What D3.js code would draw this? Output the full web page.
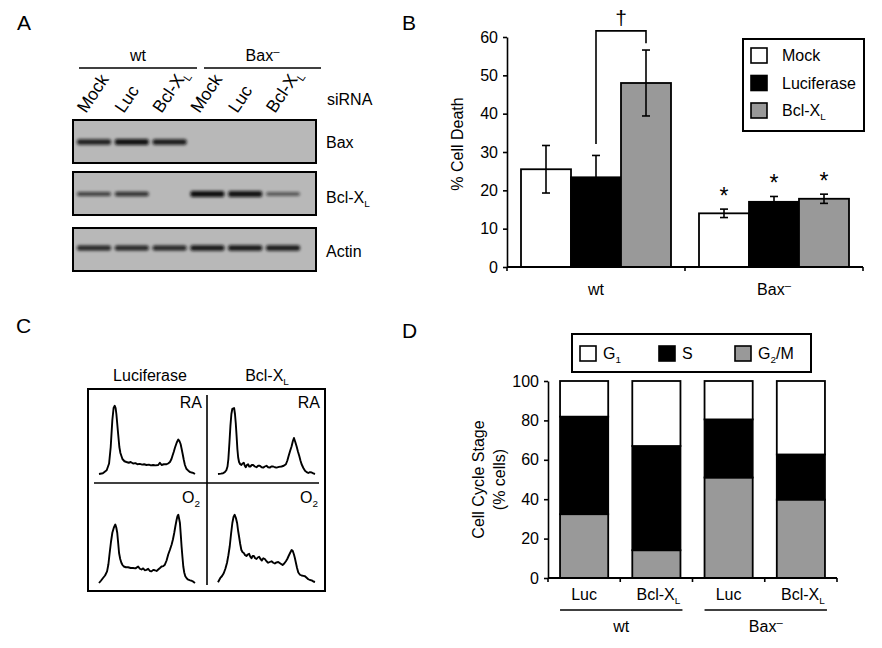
<!DOCTYPE html>
<html><head><meta charset="utf-8">
<script src="https://cdn.jsdelivr.net/npm/d3@7"></script>
<style>
body{margin:0;background:#fff}
svg text{font-family:"Liberation Sans",Arial,Helvetica,sans-serif;fill:#000}
</style>
</head><body>
<svg id="fig" width="882" height="648"></svg>
<script>
// ---------------- DATA ----------------
// Panel A (western blots)
const lanes = ["wt-Mock","wt-Luc","wt-Bcl","bax-Mock","bax-Luc","bax-Bcl"];
const laneLabels = ["Mock","Luc","Bcl-X_L","Mock","Luc","Bcl-X_L"];
const strainLabels = ["wt","Bax^–"];
const blotNames = ["Bax","Bcl-X_L","Actin"];
const baxBands = [0.85, 0.95, 0.9, 0, 0, 0];
const bclBands = [0.6, 0.7, 0, 1.0, 0.95, 0.45];
const actinBands = [0.8, 0.8, 0.8, 0.92, 0.92, 0.88];

// Panel B (% cell death)
const groupsB = ["wt","Bax^–"];
const seriesB = ["Mock","Luciferase","Bcl-X_L"];
const mockDeath = [25.5, 14.0];
const lucDeath = [23.4, 17.0];
const bclDeath = [48.0, 17.8];
const mockErr = [6.2, 1.1];
const lucErr = [5.7, 1.4];
const bclErr = [8.6, 1.2];
const yTicksB = [0,10,20,30,40,50,60];
const bracketLevels = [32.1, 61.6, 58.4];

// Panel C (DNA content histograms: [channel, count])
const histTitles = ["Luciferase","Bcl-X_L"];
const histConds = ["RA","O_2"];
const histLucRA = [[0,0],[4,1],[8,5],[10.5,14],[12.2,36],[13.9,72],[15.2,88],[16.4,91],[17.3,88],[18.1,80],[19.9,54],[21.2,36],[22.3,28],[24.4,20],[26.5,17],[28.6,16],[31,15],[33,16],[35.5,14],[38,14.5],[40,13],[42.5,13.5],[45,12.5],[47,13],[49.5,12],[52,12.5],[54,11.5],[56.4,12],[59,11.5],[61.7,12],[63.4,15],[65.2,12],[67.5,13],[70.4,13],[72,14],[73.9,16],[75.5,20],[76.7,25],[78,30],[79.1,35],[81,42],[82.6,46],[83.8,44],[85,40],[86,34],[87.1,27],[88.3,19],[89.5,12],[91,7],[93,4.4],[95,2.5],[96.5,2],[98,1.5],[100,0]];
const histBclRA = [[0,0],[3,0.5],[5.2,1],[7,2.5],[8.6,5],[9.8,10],[10.7,20],[11.8,42],[12.8,64],[13.8,80],[14.8,87],[16.6,88],[17.5,80],[18.3,68],[19.2,50],[20,33],[20.8,22],[21.7,16],[22.9,13],[24.1,12],[25.3,14],[26.6,15],[27.6,11],[28.6,9],[29.8,12],[31,13],[32.2,10],[33.4,10],[34.8,12],[36.2,12],[38,10],[39.7,9],[41.4,11],[43.1,11],[45,9],[46.6,8.5],[48.3,10],[50,11],[51.7,9],[53.4,8.5],[55,10],[56.9,10],[58.6,9],[60.3,8.5],[62.9,9.5],[65.5,10],[67.8,11],[70,13],[71.5,18],[72.8,24],[74.4,31],[75.9,37],[77.2,44],[78.3,48],[79.6,43],[81,37],[82.4,30],[83.8,24],[85,18],[86.2,13],[88,8],[89.7,4.4],[91.4,2.5],[93.1,1.3],[94.8,2.5],[96.6,2],[98.3,0.8],[100,0]];
const histLucO2 = [[0,0],[2,3],[4.2,6.7],[6.3,10],[8.4,15.5],[9.8,25],[11.1,40],[12.5,55],[13.9,67],[15.5,74],[17,78],[18,74],[19,67],[20,53],[20.9,40],[22.1,32],[23.3,27],[24.5,24],[25.8,22],[28,21],[30.3,21],[33,20],[35.5,20],[38,19.5],[40.8,22],[42.5,19],[44.3,18],[46,19.5],[47.7,17],[49.5,17.5],[51.2,19],[53,16],[54.7,15.5],[56.5,17.5],[58.2,17],[60,16],[61.7,18],[63.5,20],[65.2,22],[67,22.5],[68.6,24.4],[70.4,30],[72.1,38],[73.8,44],[75.6,51],[77,58],[78.4,67],[79.6,76],[80.8,84],[81.7,89],[82.6,91],[83.4,86],[84.3,80],[85.2,64],[86,49],[86.9,35],[87.8,22],[88.8,14],[89.9,8.9],[91.5,6],[93,4.4],[95,3.5],[96.5,3],[98.2,1.8],[100,0]];
const histBclO2 = [[0,1],[2.4,6.7],[4,9],[5.9,13],[7.6,19],[9.3,27],[10.7,37],[12.1,49],[13.5,66],[14.8,80],[16,88],[17.2,91],[18.4,87],[19.7,80],[20.7,70],[21.7,62],[22.9,52],[24.1,44],[25.4,41],[26.6,40],[28,37],[29.3,36],[30.7,38],[32.1,39],[33.3,35],[34.5,33],[35.7,36],[37,36],[38.3,33],[39.7,32],[41,34],[42.4,35],[43.8,32],[45.2,30],[46.7,33],[48.3,32],[50,29],[51.7,27],[53.4,28],[55.2,29],[57,27],[58.6,26],[60.3,27.5],[62.1,28],[64.3,26],[66.6,24],[68.3,26],[70,29],[71.4,32],[72.8,36],[74.3,40],[75.9,44],[77,43],[78.3,38],[79.3,33],[80.3,27],[81.5,20],[82.8,14],[84.5,11],[86.2,10],[88,9.5],[89.7,9],[91.4,7],[93.1,5],[94.8,4],[96.6,3.5],[98.3,2],[100,1.3]];

// Panel D (cell cycle stage)
const catsD = ["Luc","Bcl-X_L","Luc","Bcl-X_L"];
const groupsD = ["wt","Bax^–"];
const stagesD = ["G_1","S","G_2/M"];
const g2mPct = [32.4, 14.1, 51.0, 39.8];
const sPct = [49.5, 52.9, 29.5, 22.9];
const g1Pct = [18.1, 33.0, 19.5, 37.3];
const yTicksD = [0,20,40,60,80,100];

// ---------------- HELPERS ----------------
const svg = d3.select("#fig");
const FS = 16;
// parse "Bcl-X_L" (subscript) and "Bax^–" (superscript)
function rich(g, x, y, label, opt = {}) {
  const fs = opt.size || FS;
  const t = g.append("text").attr("x", x).attr("y", y)
    .attr("font-size", fs).attr("text-anchor", opt.anchor || "start");
  if (opt.transform) t.attr("transform", opt.transform);
  const re = /([_^])(.)/g;
  let last = 0, m, shift = 0;
  const parts = [];
  while ((m = re.exec(label)) !== null) {
    if (m.index > last) parts.push({t: label.slice(last, m.index), k: ""});
    parts.push({t: m[2], k: m[1]});
    last = re.lastIndex;
  }
  if (last < label.length) parts.push({t: label.slice(last), k: ""});
  parts.forEach(p => {
    const ts = t.append("tspan").text(p.t);
    let target = 0;
    if (p.k === "_") { ts.attr("font-size", fs * 0.62); target = fs * 0.28; }
    else if (p.k === "^") { ts.attr("font-size", fs * 0.7); target = -fs * 0.35; }
    if (target - shift !== 0) ts.attr("dy", target - shift);
    shift = target;
  });
  return t;
}
function panelLetter(x, y, s) {
  svg.append("text").attr("x", x).attr("y", y).attr("font-size", 21).text(s);
}

panelLetter(17, 30, "A");
panelLetter(402, 30, "B");
panelLetter(16, 333, "C");
panelLetter(402, 338, "D");

// ---------------- PANEL A ----------------
(function() {
  const g = svg.append("g");
  const defs = svg.append("defs");
  defs.append("filter").attr("id", "blur").attr("x", "-20%").attr("y", "-100%")
    .attr("width", "140%").attr("height", "300%")
    .append("feGaussianBlur").attr("stdDeviation", 1.4);
  const x = d3.scalePoint().domain(lanes).range([94, 283]);
  // strain headers
  const spans = [[79, 197], [204, 321]];
  strainLabels.forEach((s, i) => {
    g.append("line").attr("x1", spans[i][0]).attr("x2", spans[i][1])
      .attr("y1", 68).attr("y2", 68).attr("stroke", "#000").attr("stroke-width", 1.6);
    rich(g, (spans[i][0] + spans[i][1]) / 2, 61, s, {anchor: "middle"});
  });
  lanes.forEach((l, i) => {
    const lx = x(l) - 8, ly = 114;
    rich(g, 0, 0, laneLabels[i], {size: 17.5, transform: `translate(${lx},${ly}) rotate(-56)`});
  });
  rich(g, 327, 105, "siRNA");
  const blotTops = [120, 172, 228];
  const blotH = 43;
  const bands = [baxBands, bclBands, actinBands];
  const bandY = [142, 194, 248];
  const labelY = [148, 203, 257];
  blotNames.forEach((name, b) => {
    g.append("rect").attr("x", 73).attr("y", blotTops[b]).attr("width", 243).attr("height", blotH)
      .attr("fill", "#b8b8b8").attr("stroke", "#000").attr("stroke-width", 2);
    const clip = "clipb" + b;
    defs.append("clipPath").attr("id", clip).append("rect")
      .attr("x", 74).attr("y", blotTops[b] + 1).attr("width", 241).attr("height", blotH - 2);
    const bd = bands[b].map((v, i) => ({v, lane: lanes[i]})).filter(d => d.v > 0);
    g.append("g").attr("clip-path", `url(#${clip})`).selectAll("rect").data(bd).join("rect")
      .attr("x", d => x(d.lane) - 17)
      .attr("width", 34)
      .attr("y", d => bandY[b] - (1.5 + 4.5 * d.v) / 2)
      .attr("height", d => 1.5 + 4.5 * d.v)
      .attr("rx", 2)
      .attr("fill", "#0d0d0d").attr("opacity", d => 0.35 + 0.65 * d.v)
      .attr("filter", "url(#blur)");
    rich(g, 326, labelY[b], name);
  });
})();

// ---------------- PANEL B ----------------
(function() {
  const g = svg.append("g");
  const y = d3.scaleLinear().domain([0, 60]).range([267, 37]);
  const x0 = d3.scaleBand().domain(groupsB).range([507, 863]);
  const x1 = d3.scaleBand().domain(seriesB).range([14, x0.bandwidth() - 14]);
  const fills = {"Mock": "#fff", "Luciferase": "#000", "Bcl-X_L": "#999"};
  const vals = {"Mock": mockDeath, "Luciferase": lucDeath, "Bcl-X_L": bclDeath};
  const errs = {"Mock": mockErr, "Luciferase": lucErr, "Bcl-X_L": bclErr};
  const recs = [];
  groupsB.forEach((grp, gi) => seriesB.forEach(s => recs.push({grp, gi, s, v: vals[s][gi], e: errs[s][gi]})));
  const cx = d => x0(d.grp) + x1(d.s) + x1.bandwidth() / 2;

  g.selectAll("rect.bar").data(recs).join("rect").attr("class", "bar")
    .attr("x", d => x0(d.grp) + x1(d.s)).attr("width", x1.bandwidth())
    .attr("y", d => y(d.v)).attr("height", d => y(0) - y(d.v))
    .attr("fill", d => fills[d.s]).attr("stroke", "#000").attr("stroke-width", 1.8);

  // error bars
  const eb = g.selectAll("g.eb").data(recs).join("g").attr("stroke", "#000").attr("stroke-width", 1.6);
  eb.append("line").attr("x1", cx).attr("x2", cx).attr("y1", d => y(d.v - d.e)).attr("y2", d => y(d.v + d.e));
  eb.append("line").attr("x1", d => cx(d) - 4).attr("x2", d => cx(d) + 4).attr("y1", d => y(d.v + d.e)).attr("y2", d => y(d.v + d.e));
  eb.append("line").attr("x1", d => cx(d) - 4).attr("x2", d => cx(d) + 4).attr("y1", d => y(d.v - d.e)).attr("y2", d => y(d.v - d.e));

  // significance stars on Bax- group
  g.selectAll("text.star").data(recs.filter(d => d.gi === 1)).join("text").attr("class", "star")
    .attr("x", cx).attr("y", d => y(d.v + d.e) - 5).attr("text-anchor", "middle")
    .attr("font-size", 23).text("*");

  // bracket
  const bl = recs.find(d => d.gi === 0 && d.s === "Luciferase");
  const bb = recs.find(d => d.gi === 0 && d.s === "Bcl-X_L");
  g.append("path").attr("fill", "none").attr("stroke", "#000").attr("stroke-width", 1.6)
    .attr("d", `M${cx(bl)},${y(bracketLevels[0])}V${y(bracketLevels[1])}H${cx(bb)}V${y(bracketLevels[2])}`);
  g.append("text").attr("x", (cx(bl) + cx(bb)) / 2).attr("y", y(bracketLevels[1]) - 6)
    .attr("text-anchor", "middle").attr("font-size", 21).text("†");

  // axes
  const ya = g.append("g").attr("transform", "translate(507,0)")
    .call(d3.axisLeft(y).tickValues(yTicksB).tickSize(4).tickSizeOuter(0).tickPadding(5));
  ya.selectAll("text").attr("font-size", FS).attr("font-family", null);
  ya.selectAll("path,line").attr("stroke", "#000").attr("stroke-width", 1.6);
  g.append("line").attr("x1", 507).attr("x2", 863).attr("y1", y(0)).attr("y2", y(0))
    .attr("stroke", "#000").attr("stroke-width", 1.8);
  const bounds = groupsB.map(d => x0(d)).concat([x0.range()[1]]);
  g.selectAll("line.xt").data(bounds).join("line").attr("class", "xt")
    .attr("x1", d => d).attr("x2", d => d).attr("y1", y(0)).attr("y2", y(0) + 4)
    .attr("stroke", "#000").attr("stroke-width", 1.6);
  groupsB.forEach(grp => rich(g, x0(grp) + x0.bandwidth() / 2, 295, grp, {anchor: "middle"}));
  g.append("text").attr("transform", `translate(463,${(y(0) + y(60)) / 2 - 8}) rotate(-90)`)
    .attr("text-anchor", "middle").attr("font-size", FS).text("% Cell Death");

  // legend
  g.append("rect").attr("x", 743).attr("y", 39).attr("width", 121).attr("height", 92)
    .attr("fill", "#fff").attr("stroke", "#000").attr("stroke-width", 2);
  seriesB.forEach((s, i) => {
    const yy = 48 + i * 27.5;
    g.append("rect").attr("x", 751).attr("y", yy).attr("width", 16).attr("height", 15)
      .attr("fill", fills[s]).attr("stroke", "#000").attr("stroke-width", 1.6);
    rich(g, 782, yy + 13, s);
  });
})();

// ---------------- PANEL C ----------------
(function() {
  const g = svg.append("g");
  const box = {x0: 88, x1: 325, y0: 389, y1: 591, mx: 207, my: 483};
  g.append("rect").attr("x", box.x0).attr("y", box.y0).attr("width", box.x1 - box.x0).attr("height", box.y1 - box.y0)
    .attr("fill", "none").attr("stroke", "#000").attr("stroke-width", 2);
  g.append("line").attr("x1", box.mx).attr("x2", box.mx).attr("y1", 395).attr("y2", 585)
    .attr("stroke", "#000").attr("stroke-width", 1.6);
  g.append("line").attr("x1", 94).attr("x2", 319).attr("y1", box.my).attr("y2", box.my)
    .attr("stroke", "#000").attr("stroke-width", 1.6);
  const colX = [[99, 195], [218, 315]];
  const rowBase = [474, 583];
  rich(g, 150, 381, histTitles[0], {anchor: "middle"});
  rich(g, 267, 381, histTitles[1], {anchor: "middle"});
  const hists = [[histLucRA, histBclRA], [histLucO2, histBclO2]];
  const condY = [408, 503];
  const condX = [202, 320];
  hists.forEach((row, r) => row.forEach((h, c) => {
    const xs = d3.scaleLinear().domain([0, 100]).range(colX[c]);
    const ys = d3.scaleLinear().domain([0, 100]).range([rowBase[r], rowBase[r] - 75]);
    g.append("path").datum(h).attr("fill", "none").attr("stroke", "#000").attr("stroke-width", 1.9)
      .attr("stroke-linejoin", "round")
      .attr("d", d3.line().x(d => xs(d[0])).y(d => ys(d[1])));
    rich(g, condX[c] - (r === 1 ? 2 : 0), condY[r], histConds[r], {anchor: "end"});
  }));
})();

// ---------------- PANEL D ----------------
(function() {
  const g = svg.append("g");
  const y = d3.scaleLinear().domain([0, 100]).range([578, 381]);
  const idx = d3.range(catsD.length);
  const x = d3.scaleBand().domain(idx).range([548, 837]).paddingInner(1 / 3).paddingOuter(1 / 6);
  const rows = idx.map(i => ({i, g2m: g2mPct[i], s: sPct[i], g1: g1Pct[i]}));
  const stack = d3.stack().keys(["g2m", "s", "g1"])(rows);
  const fill = {g2m: "#999", s: "#000", g1: "#fff"};
  stack.forEach(layer => {
    g.selectAll(null).data(layer).join("rect")
      .attr("x", d => x(d.data.i)).attr("width", x.bandwidth())
      .attr("y", d => y(d[1])).attr("height", d => y(d[0]) - y(d[1]))
      .attr("fill", fill[layer.key]).attr("stroke", "#000").attr("stroke-width", 1.8);
  });
  const ya = g.append("g").attr("transform", "translate(548,0)")
    .call(d3.axisLeft(y).tickValues(yTicksD).tickSize(4).tickSizeOuter(0).tickPadding(5));
  ya.selectAll("text").attr("font-size", FS).attr("font-family", null);
  ya.selectAll("path,line").attr("stroke", "#000").attr("stroke-width", 1.6);
  g.append("line").attr("x1", 548).attr("x2", 837).attr("y1", y(0)).attr("y2", y(0))
    .attr("stroke", "#000").attr("stroke-width", 1.8);
  const step = x.step();
  const bounds = d3.range(catsD.length + 1).map(i => 548 + i * step);
  g.selectAll("line.xt").data(bounds).join("line").attr("class", "xt")
    .attr("x1", d => d).attr("x2", d => d).attr("y1", y(0)).attr("y2", y(0) + 4)
    .attr("stroke", "#000").attr("stroke-width", 1.6);
  idx.forEach(i => rich(g, x(i) + x.bandwidth() / 2 + (i % 2 ? 2 : 0), 600, catsD[i], {anchor: "middle"}));
  groupsD.forEach((grp, k) => {
    const a = x(2 * k), b = x(2 * k + 1) + x.bandwidth() + 2;
    g.append("line").attr("x1", a).attr("x2", b).attr("y1", 610).attr("y2", 610)
      .attr("stroke", "#000").attr("stroke-width", 1.6);
    rich(g, (a + b) / 2, 632, grp, {anchor: "middle"});
  });
  const ymid = (y(0) + y(100)) / 2;
  g.append("text").attr("transform", `translate(484,${ymid}) rotate(-90)`)
    .attr("text-anchor", "middle").attr("font-size", FS).text("Cell Cycle Stage");
  g.append("text").attr("transform", `translate(505,${ymid}) rotate(-90)`)
    .attr("text-anchor", "middle").attr("font-size", FS).text("(% cells)");
  // legend
  g.append("rect").attr("x", 572).attr("y", 334).attr("width", 239).attr("height", 38)
    .attr("fill", "#fff").attr("stroke", "#000").attr("stroke-width", 2);
  const lx = [580, 659, 735];
  const keys = ["g1", "s", "g2m"];
  stagesD.forEach((s, i) => {
    g.append("rect").attr("x", lx[i]).attr("y", 346).attr("width", 16).attr("height", 15)
      .attr("fill", fill[keys[i]]).attr("stroke", "#000").attr("stroke-width", 1.6);
    rich(g, lx[i] + 23, 359, s);
  });
})();
</script>
</body></html>
